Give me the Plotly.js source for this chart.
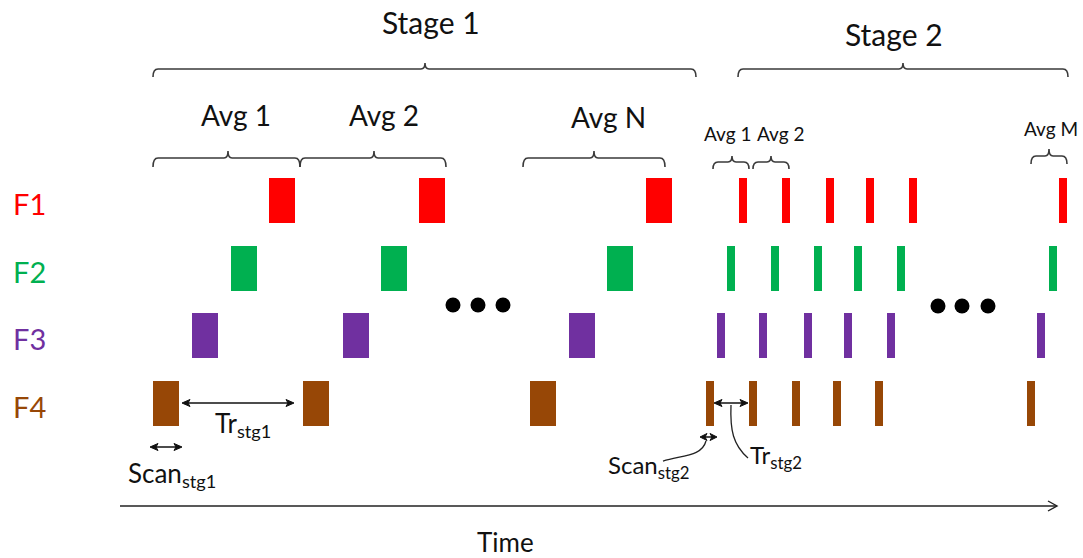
<!DOCTYPE html>
<html><head><meta charset="utf-8">
<script src="https://cdn.plot.ly/plotly-3.0.1.min.js"></script>
<style>html,body{margin:0;padding:0;background:#fff}#chart{width:1083px;height:558px}</style>
</head><body><div id="chart"></div>
<script>
// Channels (rows) and their colours
const channels = ['F1','F2','F3','F4'];
const channelColors = ['#FF0000','#00B050','#7030A0','#974706'];
const rowY = [200, 268, 335, 403];
// Scan start times (time units) per channel
const stage1Starts = {
  F1: [269, 419, 646],
  F2: [231, 381, 607],
  F3: [192, 343, 569],
  F4: [153, 303, 530]
};
const stage1ScanLen = 26;
const stage2Starts = {
  F1: [739, 782, 826, 866, 909, 1059],
  F2: [727, 771, 814, 854, 897, 1049],
  F3: [717, 759, 804, 844, 887, 1037],
  F4: [706, 749, 792, 833, 875, 1027]
};
const stage2ScanLen = 7.5;
// ellipsis dots
const dotsX = [453, 478, 503, 938, 962, 988];
const dotsY = [305, 305, 305, 306, 306, 306];

const FONT = 'Lato, "Open Sans", sans-serif';
const INK = '#111';
const BR = '#3a3a3a';

const traces = [];
channels.forEach((c, i) => {
  const starts = stage1Starts[c].concat(stage2Starts[c]);
  const lens = stage1Starts[c].map(() => stage1ScanLen).concat(stage2Starts[c].map(() => stage2ScanLen));
  traces.push({
    type: 'bar', orientation: 'h', name: c,
    base: starts, x: lens, y: starts.map(() => rowY[i]),
    width: 45,
    marker: {color: channelColors[i], line: {width: 0}},
    hoverinfo: 'skip', showlegend: false
  });
});
traces.push({
  type: 'scatter', mode: 'markers', x: dotsX, y: dotsY,
  marker: {color: '#000', size: 15}, hoverinfo: 'skip', showlegend: false
});

function bracket(x1, x2, c, y, h, tip) {
  return {type: 'path', xref: 'x', yref: 'y', line: {color: BR, width: 1.6},
    path: `M ${x1},${y+h} Q ${x1},${y} ${x1+5},${y} L ${c-4},${y} Q ${c},${y} ${c},${y-tip} Q ${c},${y} ${c+4},${y} L ${x2-5},${y} Q ${x2},${y} ${x2},${y+h}`};
}
// double-headed horizontal arrow drawn as shapes
function dbl(x0, x1, y, hl, hw) {
  hl = hl || 8; hw = hw || 3.5;
  return [
    {type: 'line', xref: 'x', yref: 'y', x0: x0 + 2, x1: x1 - 2, y0: y, y1: y, line: {color: '#111', width: 1.5}},
    {type: 'path', xref: 'x', yref: 'y', fillcolor: '#111', line: {color: '#111', width: 1},
      path: `M ${x0},${y} L ${x0+hl},${y-hw} L ${x0+hl-2},${y} L ${x0+hl},${y+hw} Z`},
    {type: 'path', xref: 'x', yref: 'y', fillcolor: '#111', line: {color: '#111', width: 1},
      path: `M ${x1},${y} L ${x1-hl},${y-hw} L ${x1-hl+2},${y} L ${x1-hl},${y+hw} Z`}
  ];
}
const shapes = [
  bracket(153, 696, 425, 69, 8, 6),
  bracket(738, 1068, 903, 69, 8, 6),
  bracket(153, 300, 228, 158, 9, 7),
  bracket(300, 446, 374, 158, 9, 7),
  bracket(523, 665, 594, 158, 9, 7),
  bracket(713, 749, 732, 162, 7, 6),
  bracket(753, 789, 771, 162, 7, 6),
  bracket(1031, 1067, 1049, 156, 8, 7),
  // time axis
  {type: 'line', xref: 'x', yref: 'y', x0: 120, x1: 1057, y0: 506, y1: 506, line: {color: '#222', width: 1.4}},
  {type: 'path', xref: 'x', yref: 'y', path: 'M 1048,501 L 1057,506 L 1048,511', line: {color: '#222', width: 1.4}},
  // leader curves in stage 2
  {type: 'path', xref: 'x', yref: 'y', path: 'M 706,441 C 702,456 684,455 663,461', line: {color: '#222', width: 1.3}},
  {type: 'path', xref: 'x', yref: 'y', path: 'M 731,405 C 730,430 733,445 748,458', line: {color: '#222', width: 1.3}}
].concat(dbl(182, 294, 403), dbl(150, 182, 447), dbl(714, 748, 403), dbl(700, 717, 437, 7, 3.5));

function txt(x, y, text, size, color, anchor) {
  return {x, y, xref: 'x', yref: 'y', text, showarrow: false,
    font: {family: FONT, size, color: color || INK}, xanchor: anchor || 'center', yanchor: 'middle'};
}
const annotations = [
  txt(431, 22, 'Stage 1', 30),
  txt(894, 34, 'Stage 2', 30),
  txt(236, 115, 'Avg 1', 28),
  txt(384, 115, 'Avg 2', 28),
  txt(608, 117, 'Avg N', 28),
  txt(727, 133, 'Avg 1', 19),
  txt(780, 133, 'Avg 2', 19),
  txt(1051, 128, 'Avg M', 19),
  txt(505, 542, 'Time', 26),
  txt(172, 474, 'Scan<sub>stg1</sub>', 26),
  txt(243, 424, 'Tr<sub>stg1</sub>', 26),
  txt(648, 466, 'Scan<sub>stg2</sub>', 24),
  txt(776, 456, 'Tr<sub>stg2</sub>', 24)
];
channels.forEach((c, i) => annotations.push(txt(11, rowY[i] + 3, c, 29, channelColors[i], 'left')));

const layout = {
  width: 1083, height: 558, margin: {l: 0, r: 0, t: 0, b: 0},
  paper_bgcolor: '#fff', plot_bgcolor: '#fff', barmode: 'overlay', bargap: 0,
  xaxis: {range: [0, 1083], visible: false, fixedrange: true},
  yaxis: {range: [558, 0], visible: false, fixedrange: true},
  shapes, annotations, showlegend: false
};
Plotly.newPlot('chart', traces, layout, {staticPlot: true, displayModeBar: false});
</script></body></html>
